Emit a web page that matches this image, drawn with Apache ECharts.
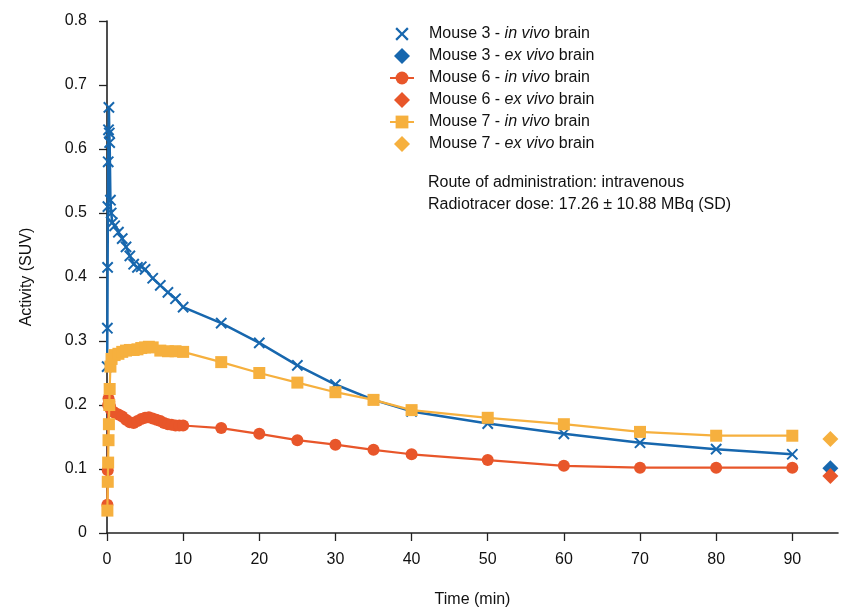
<!DOCTYPE html>
<html>
<head>
<meta charset="utf-8">
<script src="https://cdn.jsdelivr.net/npm/echarts@6/dist/echarts.min.js"></script>
<style>html,body{margin:0;padding:0;background:#fff;}#c{width:843px;height:611px;}</style>
</head>
<body>
<div id="c"></div>
<script>
// ---- data ----
var xTicks = [0, 10, 20, 30, 40, 50, 60, 70, 80, 90];
var seriesNames = [
  'Mouse 3 - in vivo brain', 'Mouse 3 - ex vivo brain',
  'Mouse 6 - in vivo brain', 'Mouse 6 - ex vivo brain',
  'Mouse 7 - in vivo brain', 'Mouse 7 - ex vivo brain'
];
var t3 = [0.02,0.05,0.08,0.12,0.16,0.2,0.25,0.3,0.35,0.45,0.55,0.7,1,1.5,2,2.5,3,3.5,4,4.5,5,6,7,8,9,10,15,20,25,30,35,40,50,60,70,80,90];
var v3 = [0.26,0.32,0.415,0.51,0.58,0.63,0.665,0.625,0.61,0.52,0.5,0.485,0.48,0.47,0.46,0.447,0.433,0.42,0.415,0.416,0.412,0.398,0.387,0.376,0.366,0.353,0.328,0.297,0.262,0.232,0.208,0.19,0.171,0.155,0.141,0.131,0.123];
var t6 = [0.05,0.1,0.15,0.2,0.3,0.4,0.5,0.75,1,1.5,2,2.5,3,3.5,4,4.5,5,5.5,6,6.5,7,7.5,8,8.5,9,9.5,10,15,20,25,30,35,40,50,60,70,80,90];
var v6 = [0.044,0.098,0.2,0.21,0.205,0.198,0.193,0.19,0.188,0.185,0.182,0.177,0.173,0.172,0.175,0.178,0.18,0.181,0.179,0.177,0.175,0.172,0.17,0.169,0.168,0.168,0.168,0.164,0.155,0.145,0.138,0.13,0.123,0.114,0.105,0.102,0.102,0.102];
var t7 = [0.05,0.1,0.15,0.2,0.25,0.3,0.35,0.45,0.6,1,1.5,2,2.5,3,3.5,4,4.5,5,5.5,6,7,8,9,10,15,20,25,30,35,40,50,60,70,80,90];
var v7 = [0.035,0.08,0.11,0.145,0.17,0.2,0.225,0.26,0.272,0.278,0.28,0.283,0.285,0.286,0.286,0.287,0.289,0.29,0.291,0.29,0.285,0.284,0.284,0.283,0.267,0.25,0.235,0.22,0.208,0.192,0.18,0.17,0.158,0.152,0.152];
var exTime = 95;
var exValues = [0.101, 0.089, 0.147]; // Mouse 3, 6, 7
var annotation = ['Route of administration: intravenous', 'Radiotracer dose: 17.26 \u00b1 10.88 MBq (SD)'];

// ---- styles ----
var C3 = '#1767ae', C6 = '#e8562a', C7 = '#f6b03e';
var FONT = '"Liberation Sans", Arial, sans-serif';
var XPATH = 'path://M-1,-1 L-1,-1 M11,11 L11,11 M0,1.2 L1.2,0 L5,3.8 L8.8,0 L10,1.2 L6.2,5 L10,8.8 L8.8,10 L5,6.2 L1.2,10 L0,8.8 L3.8,5 Z';
var DPATH = 'path://M5,0 L10,5 L5,10 L0,5 Z';

function pairs(t, v) { return t.map(function (x, i) { return [x, v[i]]; }); }

var option = {
  animation: false,
  backgroundColor: '#fff',
  grid: { left: 107, right: 5, top: 21, bottom: 78, containLabel: false, outerBoundsMode: 'none' },
  xAxis: {
    type: 'value', min: 0, max: 96,
    name: 'Time (min)', nameLocation: 'middle', nameGap: 59,
    nameTextStyle: { fontFamily: FONT, fontSize: 16, color: '#111' },
    axisLine: { show: true, onZero: false, lineStyle: { color: '#222', width: 1.6 } },
    axisTick: { show: true, length: 8, customValues: xTicks, lineStyle: { color: '#222', width: 1.3 } },
    axisLabel: { customValues: xTicks, margin: 19, fontFamily: FONT, fontSize: 16, color: '#111' },
    splitLine: { show: false }
  },
  yAxis: {
    type: 'value', min: 0, max: 0.8, interval: 0.1,
    name: 'Activity (SUV)', nameLocation: 'middle', nameGap: 72, nameRotate: 90,
    nameTextStyle: { fontFamily: FONT, fontSize: 16, color: '#111' },
    axisLine: { show: true, lineStyle: { color: '#222', width: 1.6 } },
    axisTick: { show: true, length: 8, lineStyle: { color: '#222', width: 1.3 } },
    axisLabel: { margin: 20, fontFamily: FONT, fontSize: 16, color: '#111',
      formatter: function (v) { return v === 0 ? '0' : v.toFixed(1); } },
    splitLine: { show: false }
  },
  legend: {
    orient: 'vertical', left: 384, top: 20, itemWidth: 24, itemHeight: 16, itemGap: 4,
    symbolKeepAspect: true,
    data: [
      { name: seriesNames[0], icon: XPATH },
      { name: seriesNames[1], icon: DPATH },
      { name: seriesNames[2] },
      { name: seriesNames[3], icon: DPATH },
      { name: seriesNames[4] },
      { name: seriesNames[5], icon: DPATH }
    ],
    formatter: function (name) {
      return '{s|}' + name.replace(/(in vivo|ex vivo)/, '{i|$1}');
    },
    textStyle: {
      fontFamily: FONT, fontSize: 16, color: '#111', lineHeight: 18,
      rich: {
        s: { width: 10 },
        i: { fontFamily: FONT, fontSize: 16, fontStyle: 'italic', color: '#111', lineHeight: 18 }
      }
    }
  },
  graphic: [{
    type: 'text', left: 428, top: 172,
    style: { text: annotation.join('\n'), font: '16px ' + FONT, fill: '#111', lineHeight: 21.5 }
  }],
  series: [
    { name: seriesNames[0], type: 'line', data: pairs(t3, v3), symbol: XPATH, symbolSize: 14,
      itemStyle: { color: C3 }, lineStyle: { color: C3, width: 2.5 }, z: 2 },
    { name: seriesNames[1], type: 'scatter', data: [[exTime, exValues[0]]], symbol: 'diamond', symbolSize: 16,
      itemStyle: { color: C3, opacity: 1 }, z: 3 },
    { name: seriesNames[2], type: 'line', data: pairs(t6, v6), symbol: 'circle', symbolSize: 12,
      itemStyle: { color: C6 }, lineStyle: { color: C6, width: 2.2 }, z: 4 },
    { name: seriesNames[3], type: 'scatter', data: [[exTime, exValues[1]]], symbol: 'diamond', symbolSize: 16,
      itemStyle: { color: C6, opacity: 1 }, z: 5 },
    { name: seriesNames[4], type: 'line', data: pairs(t7, v7), symbol: 'rect', symbolSize: 12,
      itemStyle: { color: C7 }, lineStyle: { color: C7, width: 2.2 }, z: 6 },
    { name: seriesNames[5], type: 'scatter', data: [[exTime, exValues[2]]], symbol: 'diamond', symbolSize: 16,
      itemStyle: { color: C7, opacity: 1 }, z: 7 }
  ]
};
var chart = echarts.init(document.getElementById('c'), null, { renderer: 'canvas' });
chart.setOption(option);
</script>
</body>
</html>
